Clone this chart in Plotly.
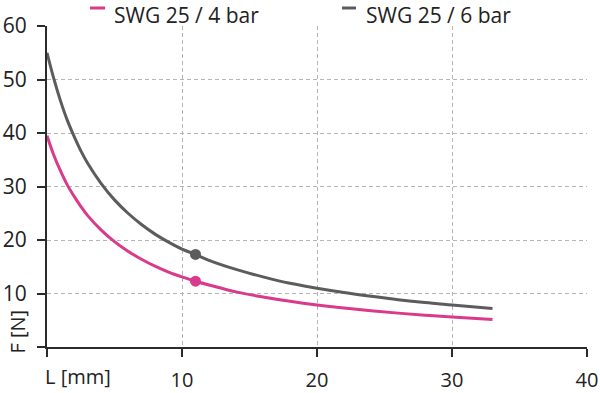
import plotly.graph_objects as go

# ---- data ----
L_mm = [0, 0.5, 1, 1.5, 2, 2.5, 3, 4, 5, 6, 7, 8, 9, 10, 11, 12, 14, 16, 18, 20, 22, 24, 26, 28, 30, 33]
F_4bar = [39.5, 35.9, 32.9, 30.3, 28.2, 26.3, 24.6, 21.9, 19.7, 17.9, 16.4, 15.1, 14.0, 13.1, 12.3, 11.6,
          10.3, 9.35, 8.54, 7.85, 7.27, 6.77, 6.33, 5.95, 5.61, 5.16]
F_6bar = [55.0, 50.2, 46.0, 42.4, 39.4, 36.7, 34.4, 30.6, 27.5, 25.0, 22.9, 21.1, 19.6, 18.3, 17.3, 16.2,
          14.5, 13.1, 11.9, 11.0, 10.2, 9.5, 8.85, 8.3, 7.85, 7.2]
marker_L = [11]
marker_4bar = [12.3]
marker_6bar = [17.3]
series_names = ["SWG 25 / 4 bar", "SWG 25 / 6 bar"]
x_ticks = [0, 10, 20, 30, 40]
x_ticktext = ["", "10", "20", "30", "40"]
y_ticks = [0, 10, 20, 30, 40, 50, 60]
y_ticktext = ["", "10", "20", "30", "40", "50", "60"]

PINK = "#d93a8b"
GREY = "#5c5c5e"
AXIS = "#2b2b2b"
GRID = "#b5b5b5"
FONT = "Open Sans"
FS = 21
FSX = 20

fig = go.Figure()
fig.add_trace(go.Scatter(x=L_mm, y=F_4bar, mode="lines", name=series_names[0],
                         line=dict(color=PINK, width=3, shape="spline"), showlegend=False))
fig.add_trace(go.Scatter(x=L_mm, y=F_6bar, mode="lines", name=series_names[1],
                         line=dict(color=GREY, width=3, shape="spline"), showlegend=False))
fig.add_trace(go.Scatter(x=marker_L, y=marker_4bar, mode="markers",
                         marker=dict(color=PINK, size=11), showlegend=False))
fig.add_trace(go.Scatter(x=marker_L, y=marker_6bar, mode="markers",
                         marker=dict(color=GREY, size=11), showlegend=False))

W, H = 600, 393
ml, mr, mt, mb = 47, 13, 26, 46
pw, ph = W - ml - mr, H - mt - mb

def px2paper_x(px):
    return (px - ml) / pw

def px2paper_y(py):
    return (H - mb - py) / ph

axis_common = dict(
    showline=True, linecolor=AXIS, linewidth=2,
    ticks="outside", ticklen=8, tickwidth=2, tickcolor=AXIS,
    showgrid=True, gridcolor=GRID, gridwidth=1, griddash="4px,3px",
    zeroline=False, automargin=False,
)

fig.update_xaxes(range=[0, 40], tickmode="array", tickvals=x_ticks, ticktext=x_ticktext,
                 ticklabelstandoff=6, tickfont=dict(family=FONT, size=FSX, color="#222"),
                 **axis_common)
fig.update_yaxes(range=[0, 60], tickmode="array", tickvals=y_ticks, ticktext=y_ticktext,
                 ticklabelstandoff=6, tickfont=dict(family=FONT, size=FS, color="#222"),
                 **axis_common)

shapes = []
annotations = []
legend_items = [(series_names[0], PINK, 90, 105, 112), (series_names[1], GREY, 342, 356, 364)]
for name, col, x0, x1, xt in legend_items:
    shapes.append(dict(type="line", xref="paper", yref="paper",
                       x0=px2paper_x(x0), x1=px2paper_x(x1),
                       y0=px2paper_y(8), y1=px2paper_y(8),
                       line=dict(color=col, width=3)))
    annotations.append(dict(text=name, xref="paper", yref="paper", x=px2paper_x(xt), y=px2paper_y(-1),
                            xanchor="left", yanchor="top", showarrow=False,
                            font=dict(family=FONT, size=FS, color="#222")))

annotations.append(dict(text="F [N]", xref="paper", yref="paper", x=px2paper_x(1), y=px2paper_y(332),
                        xanchor="left", yanchor="middle", textangle=-90, showarrow=False,
                        font=dict(family=FONT, size=FSX, color="#222")))
annotations.append(dict(text="L [mm]", xref="paper", yref="paper", x=px2paper_x(78), y=px2paper_y(392),
                        xanchor="center", yanchor="bottom", showarrow=False,
                        font=dict(family=FONT, size=FSX, color="#222")))

fig.update_layout(
    width=W, height=H,
    margin=dict(l=ml, r=mr, t=mt, b=mb, pad=0, autoexpand=False),
    paper_bgcolor="white", plot_bgcolor="white",
    shapes=shapes, annotations=annotations,
    showlegend=False,
)

fig.write_html("out.html")
